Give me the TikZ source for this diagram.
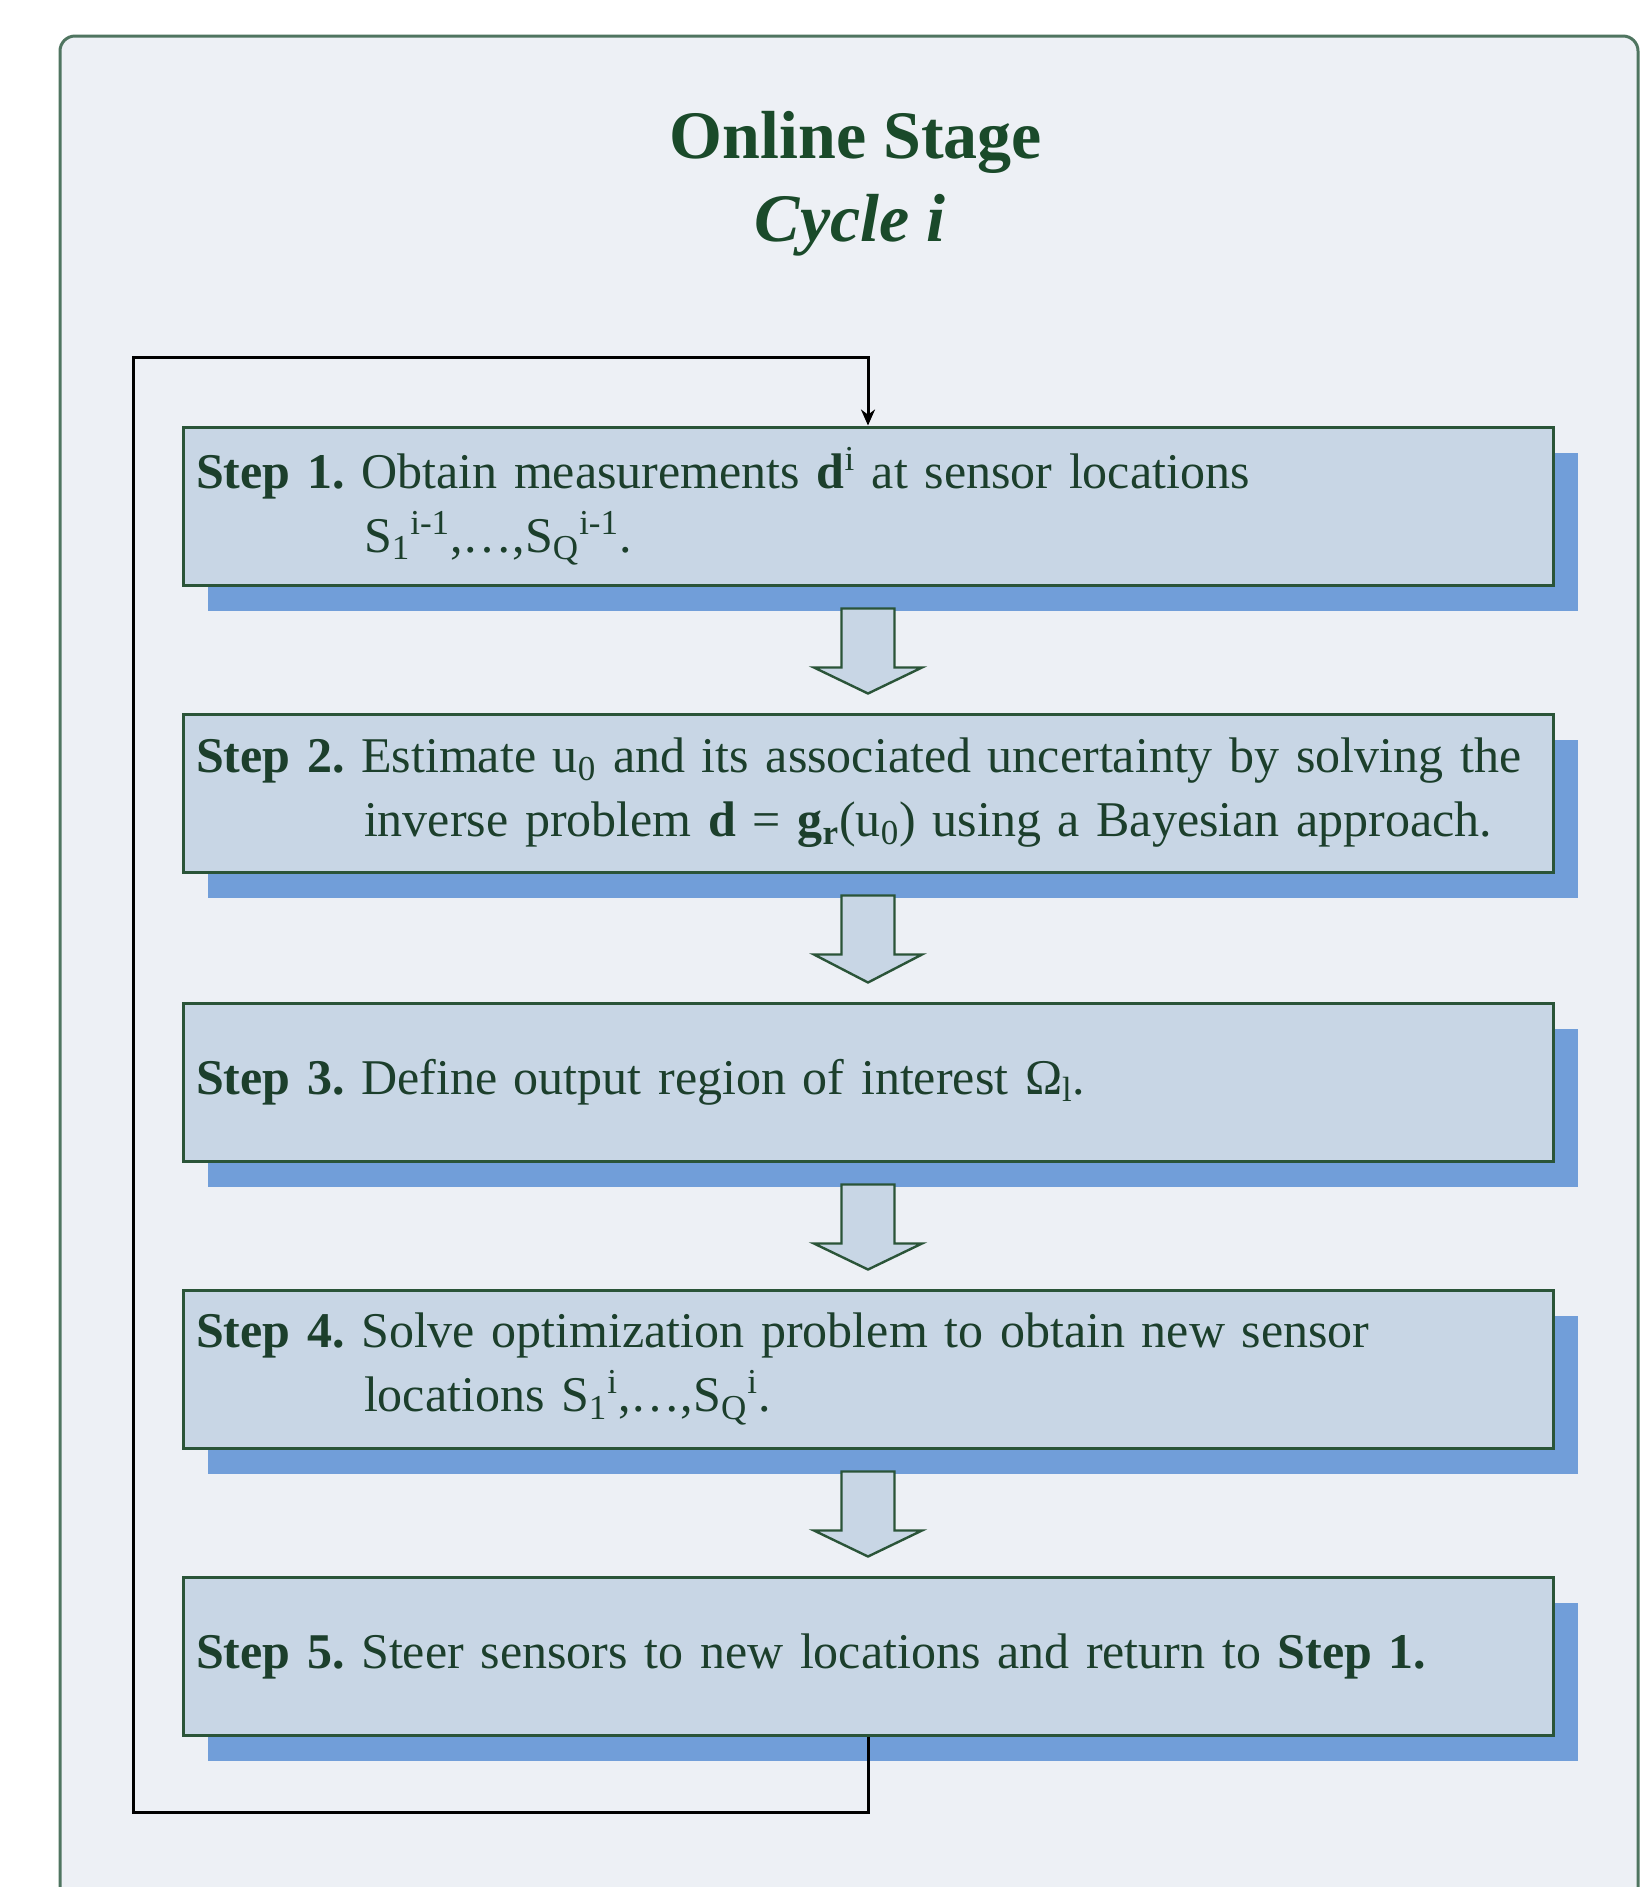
\documentclass[tikz,border=0pt]{standalone}
\usepackage{fontspec}
\setmainfont{Liberation Serif}
\usetikzlibrary{shadows,calc,arrows.meta}
\definecolor{bgin}{HTML}{EDF0F5}
\definecolor{frameline}{HTML}{4F7560}
\definecolor{boxfill}{HTML}{C8D6E5}
\definecolor{boxline}{HTML}{2A5438}
\definecolor{shadowblue}{HTML}{719ED9}
\definecolor{txt}{HTML}{1C3F2C}
\definecolor{titlecol}{HTML}{1A4A2A}
\tikzset{
  outerframe/.style={draw=frameline, line width=1.5pt, fill=bgin, rounded corners=7.5pt},
  titletext/.style={text=titlecol, font=\fontsize{34}{40}\selectfont\bfseries, inner sep=0pt},
  stepbox/.style={draw=boxline, line width=1.5pt, fill=boxfill,
    minimum width=685pt, minimum height=79pt, text width=672pt, inner xsep=6.5pt,
    align=left, text=txt, font=\fontsize{25}{32}\selectfont\frenchspacing,
    drop shadow={shadow xshift=12.5pt, shadow yshift=-13pt, fill=shadowblue, opacity=1}},
  blockarrow/.style={draw=boxline, line width=1.2pt, fill=boxfill, line join=miter},
  loopline/.style={draw=black, line width=1.5pt}
}
\newcommand{\blockarr}[2]{%
  \draw[blockarrow] ($(#1.south)+(-26.5,22)$) -- ($(#1.south)+(-26.5,81)$) -- ($(#1.south)+(-54,81)$)
    -- ($(#2.north)+(0,-19)$) -- ($(#1.south)+(54,81)$) -- ($(#1.south)+(26.5,81)$)
    -- ($(#1.south)+(26.5,22)$) -- cycle;}
\begin{document}
\begin{tikzpicture}[x=0.5pt,y=-0.5pt]
\useasboundingbox (0,0) rectangle (1648,1887);
\clip (0,0) rectangle (1648,1887);
\fill[white] (0,0) rectangle (1648,1887);
\draw[outerframe] (60,36) rectangle (1638,1960);
\node[titletext] (t1) at (856,142) {Online Stage};
\node[titletext, font=\fontsize{34}{40}\selectfont\bfseries\itshape] (t2) at (850,225) {Cycle i};

\node[stepbox] (s1) at (868,506) {\textbf{Step 1.} Obtain measurements \textbf{d}\textsuperscript{i} at sensor locations\\\hspace*{84pt}S\textsubscript{1}\textsuperscript{i-1},\ldots,S\textsubscript{Q}\textsuperscript{i-1}.};
\node[stepbox] (s2) at (868,793) {\textbf{Step 2.} Estimate u\textsubscript{0} and its associated uncertainty by solving the\\\hspace*{84pt}inverse problem \textbf{d} = \textbf{g\textsubscript{r}}(u\textsubscript{0}) using a Bayesian approach.};
\node[stepbox] (s3) at (868,1082) {\textbf{Step 3.} Define output region of interest Ω\textsubscript{l}.};
\node[stepbox] (s4) at (868,1369) {\textbf{Step 4.} Solve optimization problem to obtain new sensor\\\hspace*{84pt}locations S\textsubscript{1}\textsuperscript{i},\ldots,S\textsubscript{Q}\textsuperscript{i}.};
\node[stepbox] (s5) at (868,1656) {\textbf{Step 5.} Steer sensors to new locations and return to \textbf{Step 1.}};

\blockarr{s1}{s2}
\blockarr{s2}{s3}
\blockarr{s3}{s4}
\blockarr{s4}{s5}

\coordinate (lb) at (133,1812);
\coordinate (lt) at (133,357);
\draw[loopline, -{Stealth[length=8pt,width=7pt]}] (s5.south) |- (lb) -- (lt) -| (s1.north);
\end{tikzpicture}
\end{document}
